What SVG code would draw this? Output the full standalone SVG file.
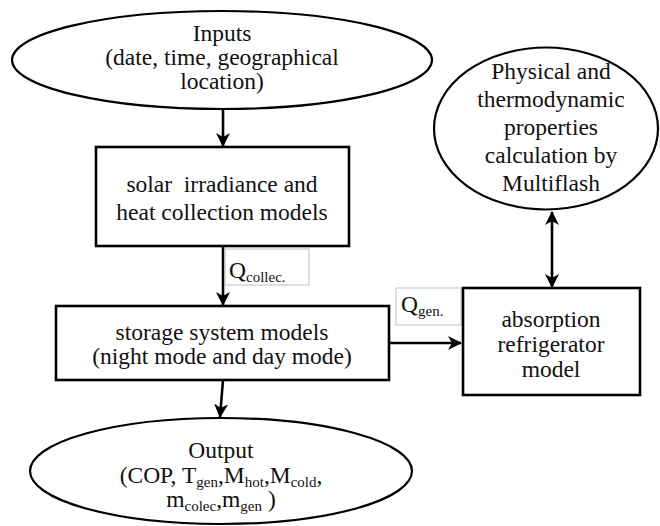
<svg xmlns="http://www.w3.org/2000/svg" width="660" height="526" viewBox="0 0 660 526" font-family="'Liberation Serif', 'Times New Roman', 'DejaVu Serif', serif">
<style>
text{font-family:'Liberation Serif','Times New Roman','DejaVu Serif',serif;font-size:23.5px;fill:#111;text-anchor:middle;white-space:pre}
.sub{font-size:15px}
.node{fill:#fff;stroke:#000;stroke-width:2.6}
.ell{fill:#fff;stroke:#000;stroke-width:2.2}
.lbl{fill:#fff;stroke:#bdbdbd;stroke-width:1}
.con{stroke:#000;stroke-width:2.6;fill:none}
.q{text-anchor:start}
</style>
<defs>
<marker id="ah" viewBox="0 0 14 14" refX="13" refY="7" markerWidth="14" markerHeight="14" markerUnits="userSpaceOnUse" orient="auto-start-reverse">
<path d="M0,0 L14,7 L0,14 L4,7 Z" fill="#000"/>
</marker>
</defs>
<g id="connectors">
<line class="con" x1="223" y1="110" x2="223" y2="146" marker-end="url(#ah)"/>
<line class="con" x1="223" y1="246" x2="223" y2="305" marker-end="url(#ah)"/>
<line class="con" x1="389" y1="343" x2="461" y2="343" marker-end="url(#ah)"/>
<line class="con" x1="552" y1="212" x2="552" y2="287" marker-start="url(#ah)" marker-end="url(#ah)"/>
<line class="con" x1="223" y1="380" x2="220" y2="417" marker-end="url(#ah)"/>
</g>
<g id="inputs">
<ellipse class="ell" cx="222" cy="60" rx="210" ry="49"/>
<text x="222" y="41">Inputs</text>
<text x="222" y="65">(date, time, geographical</text>
<text x="222" y="89">location)</text>
</g>
<g id="multiflash">
<ellipse class="ell" cx="546" cy="128.5" rx="112" ry="81"/>
<text x="551" y="79">Physical and</text>
<text x="551" y="107">thermodynamic</text>
<text x="551" y="135">properties</text>
<text x="551" y="163">calculation by</text>
<text x="551" y="191">Multiflash</text>
</g>
<g id="solar">
<rect class="node" x="96" y="147" width="253" height="99"/>
<text x="222" y="192">solar  irradiance and</text>
<text x="222" y="220">heat collection models</text>
</g>
<g id="qcollec">
<rect class="lbl" x="225" y="249" width="84" height="36"/>
<text class="q" x="229" y="278">Q<tspan class="sub" dy="4">collec.</tspan></text>
</g>
<g id="storage">
<rect class="node" x="56" y="306" width="333" height="74"/>
<text x="222" y="340">storage system models</text>
<text x="222" y="364">(night mode and day mode)</text>
</g>
<g id="qgen">
<rect class="lbl" x="396" y="288" width="65" height="37"/>
<text class="q" x="401" y="312">Q<tspan class="sub" dy="4">gen.</tspan></text>
</g>
<g id="absorption">
<rect class="node" x="463" y="288" width="177" height="107"/>
<text x="551" y="327">absorption</text>
<text x="551" y="352">refrigerator</text>
<text x="551" y="377">model</text>
</g>
<g id="output">
<ellipse class="ell" cx="221" cy="471" rx="191" ry="53"/>
<text x="221" y="458">Output</text>
<text x="221" y="483">(COP, T<tspan class="sub" dy="4">gen</tspan><tspan dy="-4">,M</tspan><tspan class="sub" dy="4">hot</tspan><tspan dy="-4">,M</tspan><tspan class="sub" dy="4">cold</tspan><tspan dy="-4">,</tspan></text>
<text x="221" y="507">m<tspan class="sub" dy="4">colec</tspan><tspan dy="-4">,m</tspan><tspan class="sub" dy="4">gen</tspan><tspan dy="-4"> )</tspan></text>
</g>
</svg>
